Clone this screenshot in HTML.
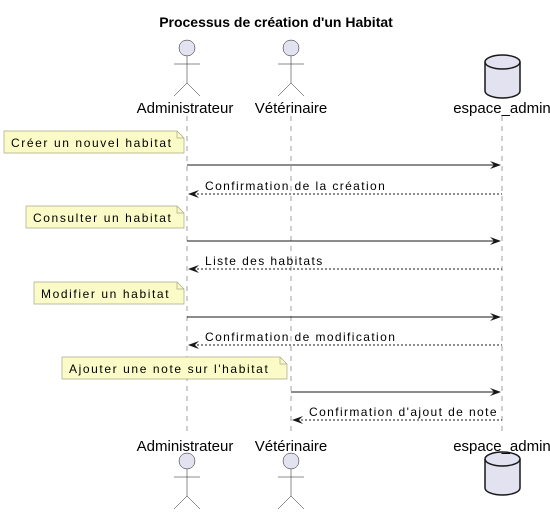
<!DOCTYPE html>
<html><head><meta charset="utf-8"><style>
body{margin:0;background:#fff;}
svg text{font-family:"Liberation Sans",sans-serif;}
</style></head><body>
<svg width="550" height="518" viewBox="0 0 550 518" xmlns="http://www.w3.org/2000/svg">
<text x="276" y="27" text-anchor="middle" font-size="14" font-weight="bold">Processus de création d'un Habitat</text>
<g stroke="#a0a0a0" stroke-width="1" stroke-dasharray="5,5">
<line x1="187" y1="116" x2="187" y2="436"/>
<line x1="291" y1="116" x2="291" y2="436"/>
<line x1="502" y1="116" x2="502" y2="436"/>
</g>
<g fill="#e2e2f0" stroke="#181818" stroke-width="0.5">
<circle cx="187" cy="48" r="8"/><circle cx="291" cy="48" r="8"/>
<circle cx="187" cy="461" r="8"/><circle cx="291" cy="461" r="8"/>
</g>
<g stroke="#181818" stroke-width="0.5" fill="none">
<path d="M187 56V83M174 64H200M187 83L174 96M187 83L200 96"/>
<path d="M291 56V83M278 64H304M291 83L278 96M291 83L304 96"/>
<path d="M187 469V496M174 477H200M187 496L174 509M187 496L200 509"/>
<path d="M291 469V496M278 477H304M291 496L278 509M291 496L304 509"/>
</g>
<g fill="#e2e2f0" stroke="#181818" stroke-width="1.5">
<path d="M485 62 A17.5 7 0 0 1 520 62 V91 A17.5 7 0 0 1 485 91 Z"/>
<path d="M485 62 A17.5 7 0 0 0 520 62" fill="none"/>
<path d="M485 459 A17.5 7 0 0 1 520 459 V488 A17.5 7 0 0 1 485 488 Z"/>
<path d="M485 459 A17.5 7 0 0 0 520 459" fill="none"/>
</g>
<g font-size="15" text-anchor="middle">
<text x="185" y="113">Administrateur</text><text x="291" y="113">Vétérinaire</text><text x="502" y="113">espace_admin</text>
<text x="185" y="451">Administrateur</text><text x="291" y="451">Vétérinaire</text><text x="502" y="451">espace_admin</text>
</g>
<g fill="#fbfbc8" stroke="#a8a887" stroke-width="0.7">
<path d="M4 131H177L184 138V153H4Z"/><path d="M177 131V138H184" fill="none"/>
<path d="M26 206H177L184 213V228H26Z"/><path d="M177 206V213H184" fill="none"/>
<path d="M34 282H177L184 289V304H34Z"/><path d="M177 282V289H184" fill="none"/>
<path d="M62 357H280L287 364V379H62Z"/><path d="M280 357V364H287" fill="none"/>
</g>
<g font-size="12" letter-spacing="1.6" fill="#000">
<text x="11" y="147">Créer un nouvel habitat</text>
<text x="33" y="222">Consulter un habitat</text>
<text x="41" y="298">Modifier un habitat</text>
<text x="69" y="373">Ajouter une note sur l'habitat</text>
</g>
<g font-size="12" letter-spacing="1.4" fill="#000">
<text x="205" y="190">Confirmation de la création</text>
<text x="205" y="265">Liste des habitats</text>
<text x="205" y="341">Confirmation de modification</text>
<text x="309" y="416">Confirmation d'ajout de note</text>
</g>
<g stroke="#181818" stroke-width="1" fill="none">
<line x1="187" y1="165" x2="500" y2="165"/>
<line x1="187" y1="241" x2="500" y2="241"/>
<line x1="187" y1="317" x2="500" y2="317"/>
<line x1="291" y1="392" x2="500" y2="392"/>
<g stroke-dasharray="2,2">
<line x1="189" y1="194" x2="502" y2="194"/>
<line x1="189" y1="269" x2="502" y2="269"/>
<line x1="189" y1="345" x2="502" y2="345"/>
<line x1="293" y1="420" x2="502" y2="420"/>
</g>
</g>
<g fill="#181818">
<path d="M501 165L490 161L494 165L490 169Z"/>
<path d="M501 241L490 237L494 241L490 245Z"/>
<path d="M501 317L490 313L494 317L490 321Z"/>
<path d="M501 392L490 388L494 392L490 396Z"/>
<path d="M188 194L199 190L195 194L199 198Z"/>
<path d="M188 269L199 265L195 269L199 273Z"/>
<path d="M188 345L199 341L195 345L199 349Z"/>
<path d="M292 420L303 416L299 420L303 424Z"/>
</g>
</svg>
</body></html>
